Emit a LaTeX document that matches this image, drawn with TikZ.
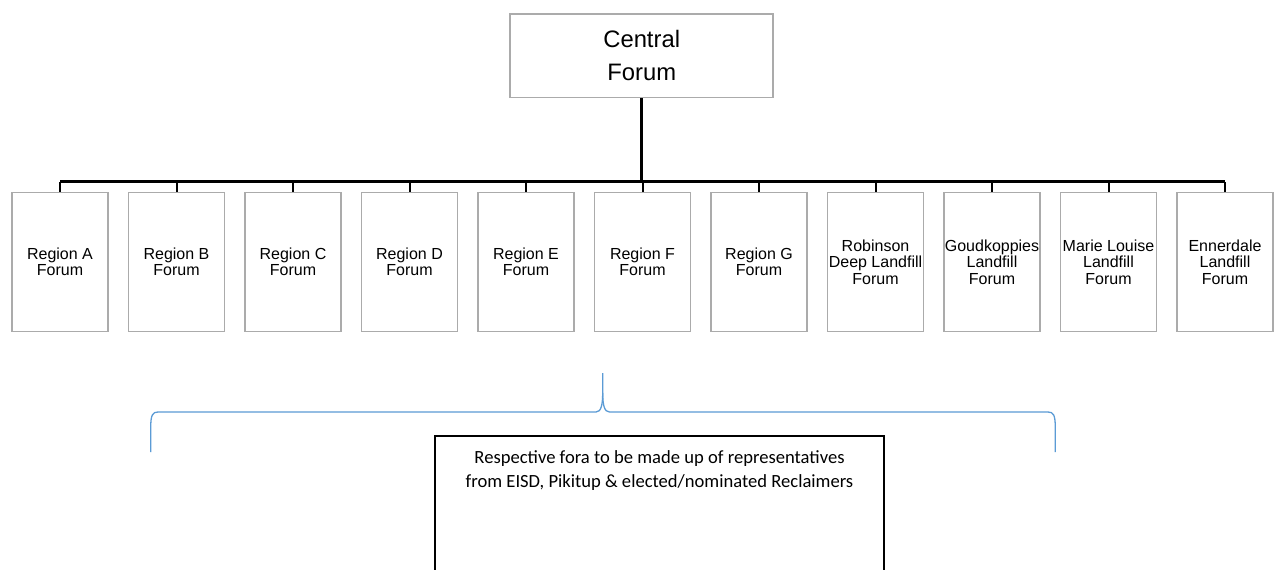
\documentclass[tikz,border=0pt]{standalone}
\usepackage{fontspec}
\setmainfont{Liberation Sans}
\newfontfamily\notefont{Carlito}
\usetikzlibrary{calc}
\definecolor{boxgray}{HTML}{ABABAB}
\definecolor{braceblue}{HTML}{5B9BD5}
\tikzset{
  forumbox/.style={draw=boxgray, line width=1.6pt, fill=white, inner sep=0pt,
    minimum width=96pt, minimum height=139pt, align=center,
    font={\fontsize{16}{16.5}\selectfont}},
  centralbox/.style={draw=boxgray, line width=1.6pt, fill=white, inner sep=0pt,
    minimum width=263pt, minimum height=83.5pt, align=center,
    font={\fontsize{23.8}{33}\selectfont}},
  busline/.style={line width=2.6pt},
  stemline/.style={line width=2pt},
  notebox/.style={draw=black, line width=1.8pt, inner sep=0pt,
    minimum width=449pt, minimum height=160pt},
  notetext/.style={align=center, inner sep=0pt,
    font={\notefont\fontsize{18.6}{24}\selectfont}},
  bracepath/.style={draw=braceblue, line width=1.3pt}
}
\begin{document}
\begin{tikzpicture}[x=1pt, y=-1pt]
  \clip (0,0) rectangle (1280,570);
  \fill[white] (0,0) rectangle (1280,570);

  % top of the hierarchy
  \node[centralbox] (central) at (641.7,55.7) {Central\\Forum};

  % horizontal bus feeding the fora
  \coordinate (busL) at (60,181.7);
  \coordinate (busR) at (1225,181.7);
  \draw[busline] (busL) -- (busR);
  \draw[busline] (central.south) -- (central.south |- busL);

  % the eleven fora
  \foreach \i/\txt in {0/{Region A\\Forum}, 1/{Region B\\Forum}, 2/{Region C\\Forum},
      3/{Region D\\Forum}, 4/{Region E\\Forum}, 5/{Region F\\Forum}, 6/{Region G\\Forum},
      7/{Robinson\\Deep Landfill\\Forum}, 8/{Goudkoppies\\Landfill\\Forum},
      9/{Marie Louise\\Landfill\\Forum}, 10/{Ennerdale\\Landfill\\Forum}} {
    \node[forumbox] (f\i) at ({60+116.5*\i},262) {\txt};
    \draw[stemline] (f\i.north) -- (f\i.north |- busL);
  }

  % brace grouping all fora
  \draw[bracepath] (150.7,452) -- (150.7,428)
    .. controls (150.7,415) and (152.5,412) .. (158,412) -- (596,412)
    .. controls (601,412) and (602.7,405) .. (602.7,393) -- (602.7,373);
  \draw[bracepath] (602.7,393)
    .. controls (602.7,405) and (604.4,412) .. (609.4,412) -- (1048,412)
    .. controls (1053.5,412) and (1055.3,415) .. (1055.3,428) -- (1055.3,452);

  % composition note
  \node[notebox, anchor=north] (note) at (659.5,435) {};
  \node[notetext] (notelabel) at ($(note.north)+(0,35.5)$)
    {Respective fora to be made up of representatives\\from EISD, Pikitup \& elected/nominated Reclaimers};
\end{tikzpicture}
\end{document}
